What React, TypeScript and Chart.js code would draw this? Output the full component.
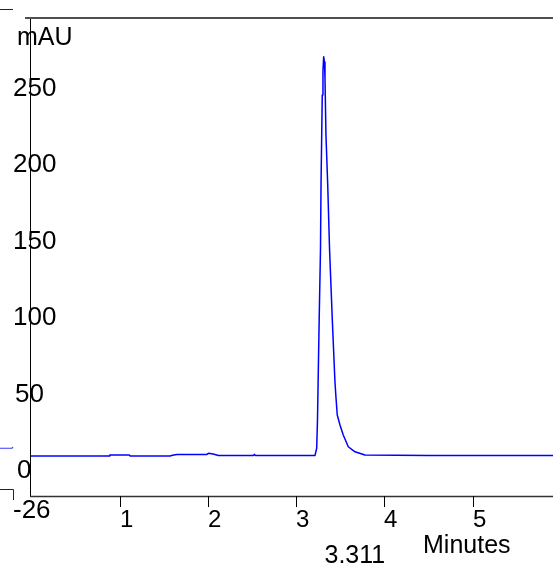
import React, { useEffect, useRef } from "react";
import { Chart, registerables } from "chart.js";

Chart.register(...registerables);

// Retention time (minutes) and detector signal (mAU)
const times = [
  0, 0.884, 0.89, 1.11, 1.12, 1.572, 1.6, 1.65, 1.99, 2.006, 2.06, 2.12, 2.52, 2.527, 2.54,
  3.215, 3.234, 3.243, 3.263, 3.277, 3.283, 3.297, 3.305, 3.313,
  3.322, 3.328, 3.339, 3.359, 3.38, 3.411, 3.441, 3.453, 3.467, 3.498, 3.535, 3.592, 3.668, 3.781,
  4.5, 5.2, 5.95,
];
const signal = [
  0.2, 0.2, 0.8, 0.8, 0.2, 0.2, 0.6, 1.1, 1.2, 1.9, 1.5, 0.5, 0.5, 1.2, 0.5,
  0.5, 5.2, 23.7, 92.3, 134.8, 177.3, 236, 251.7, 261.1,
  257.6, 247.2, 209.9, 177.3, 134.8, 89, 48.5, 38, 26.9, 20.4, 13.9, 6.2, 2.9, 0.8,
  0.5, 0.5, 0.5,
];
// trace fragment visible left of the y axis
const offTimes = [-0.36, -0.22, -0.207];
const offSignal = [5.2, 5.2, 5.9];

const xTicks = [1, 2, 3, 4, 5];
const yTicks = [250, 200, 150, 100, 50, 0, -26];
const peakTime = 3.311;
const peakLabel = "3.311";
const yUnit = "mAU";
const xTitle = "Minutes";

const X_MIN = -0.015;
const X_MAX = 5.912;
const Y_MIN = -26;
const Y_MAX = 286.4;

const FONT = '"Liberation Sans", Arial, sans-serif';

const framePlugin = {
  id: "chromFrame",
  afterDraw(chart: any) {
    const { ctx, chartArea } = chart;
    const { left, right, top, bottom } = chartArea;
    const xs = chart.scales.x;
    const ys = chart.scales.y;
    ctx.save();

    // trace fragment left of the axis (outside the plot area)
    ctx.strokeStyle = "#3a3aff";
    ctx.lineWidth = 1.2;
    ctx.beginPath();
    offTimes.forEach((t, i) => {
      const px = xs.getPixelForValue(t);
      const py = ys.getPixelForValue(offSignal[i]);
      if (i === 0) ctx.moveTo(px, py);
      else ctx.lineTo(px, py);
    });
    ctx.stroke();

    // left axis
    ctx.strokeStyle = "#000";
    ctx.lineWidth = 1;
    ctx.beginPath();
    ctx.moveTo(left + 0.5, top - 1);
    ctx.lineTo(left + 0.5, bottom);
    ctx.stroke();

    // top border
    ctx.strokeStyle = "#505050";
    ctx.lineWidth = 2;
    ctx.beginPath();
    ctx.moveTo(left - 5, top);
    ctx.lineTo(right, top);
    ctx.stroke();

    // bottom axis
    ctx.strokeStyle = "#333";
    ctx.lineWidth = 1.5;
    ctx.beginPath();
    ctx.moveTo(left, bottom + 0.5);
    ctx.lineTo(right, bottom + 0.5);
    ctx.stroke();

    // stray frame pieces at the far left
    ctx.strokeStyle = "#222";
    ctx.lineWidth = 1;
    ctx.beginPath();
    ctx.moveTo(0, top - 8.5);
    ctx.lineTo(left - 17, top - 8.5);
    ctx.moveTo(0, bottom - 6.5);
    ctx.lineTo(left - 16.5, bottom - 6.5);
    ctx.lineTo(left - 16.5, bottom + 4);
    ctx.stroke();

    // x ticks + labels
    ctx.strokeStyle = "#000";
    ctx.lineWidth = 1;
    ctx.fillStyle = "#000";
    ctx.font = `24px ${FONT}`;
    ctx.textAlign = "left";
    ctx.textBaseline = "alphabetic";
    for (const t of xTicks) {
      const px = Math.round(xs.getPixelForValue(t)) + 0.5;
      ctx.beginPath();
      ctx.moveTo(px, bottom);
      ctx.lineTo(px, bottom + 11);
      ctx.stroke();
      ctx.fillText(String(t), px - 0.5, bottom + 31);
    }

    // y labels
    ctx.font = `26px ${FONT}`;
    for (const v of yTicks) {
      const py = ys.getPixelForValue(v);
      const s = String(v);
      ctx.fillText(s, left - 17 + (3 - s.length) * 2, py + 22);
    }

    // unit
    ctx.font = `25px ${FONT}`;
    ctx.fillText(yUnit, left - 13, top + 27);

    // x title
    ctx.fillText(xTitle, right - 130, bottom + 57);

    // peak label
    ctx.fillText(peakLabel, xs.getPixelForValue(peakTime) + 1, bottom + 67);

    ctx.restore();
  },
};

export default function App() {
  const ref = useRef<HTMLCanvasElement | null>(null);

  useEffect(() => {
    if (!ref.current) return;
    const chart = new Chart(ref.current, {
      type: "line",
      data: {
        datasets: [
          {
            data: times.map((t, i) => ({ x: t, y: signal[i] })),
            borderColor: "#0000ff",
            borderWidth: 1.5,
            borderJoinStyle: "round",
            borderCapStyle: "round",
            pointRadius: 0,
            tension: 0,
            fill: false,
          },
        ],
      },
      options: {
        responsive: false,
        animation: false,
        devicePixelRatio: 1,
        layout: { padding: { left: 30, top: 18, right: 0, bottom: 68 } },
        scales: {
          x: { type: "linear", min: X_MIN, max: X_MAX, display: false },
          y: { type: "linear", min: Y_MIN, max: Y_MAX, display: false },
        },
        plugins: {
          legend: { display: false },
          tooltip: { enabled: false },
        },
        events: [],
      },
      plugins: [framePlugin],
    });
    return () => chart.destroy();
  }, []);

  return (
    <div style={{ position: "fixed", left: 0, top: 0, width: 553, height: 564, background: "#fff" }}>
      <canvas ref={ref} width={553} height={564} style={{ display: "block" }} />
    </div>
  );
}
